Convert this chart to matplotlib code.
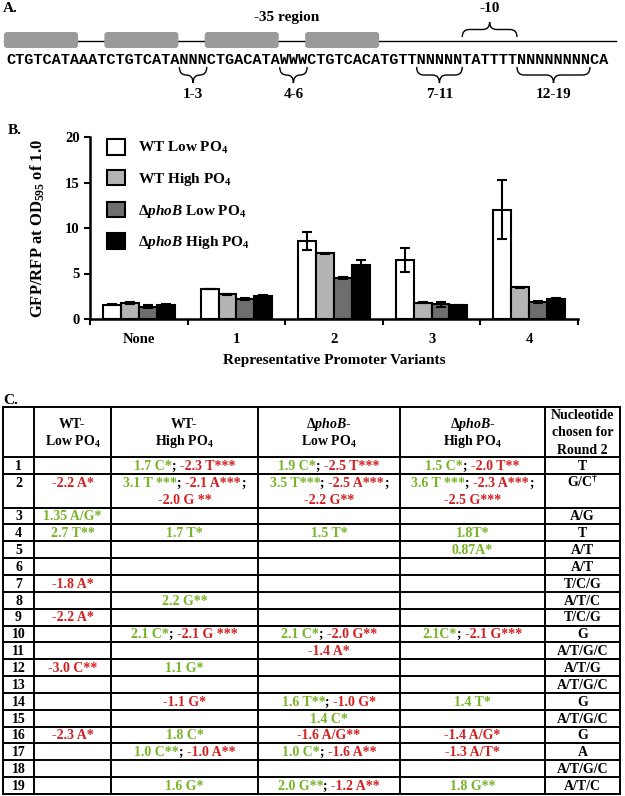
import numpy as np
import matplotlib
matplotlib.use('Agg')
import matplotlib.pyplot as plt
from matplotlib.patches import FancyBboxPatch, Patch, PathPatch
from matplotlib.path import Path
from matplotlib.font_manager import FontProperties

plt.rcParams['font.family'] = ['Liberation Serif', 'DejaVu Serif']
plt.rcParams['font.weight'] = 'bold'
plt.rcParams['mathtext.fontset'] = 'custom'
plt.rcParams['mathtext.rm'] = 'Liberation Serif:bold'
plt.rcParams['mathtext.bf'] = 'Liberation Serif:bold'
plt.rcParams['mathtext.it'] = 'Liberation Serif:italic:bold'

# A. promoter library
sequence = "CTGTCATAAATCTGTCATANNNCTGACATAWWWCTGTCACATGTTNNNNNTATTTTNNNNNNNNCA"
box_spans = [(0, 8), (11, 19), (22, 30), (33, 41)]
site_braces = [(19, 22, '1-3'), (30, 33, '4-6'), (45, 50, '7-11'), (56, 64, '12-19')]
minus10_span = (50, 56)

# B. reporter output
variants = ['None', '1', '2', '3', '4']
series = ['WT Low PO$_4$', 'WT High PO$_4$',
          'Δ$\\mathit{phoB}$ Low PO$_4$', 'Δ$\\mathit{phoB}$ High PO$_4$']
wt_low = [1.55, 3.3, 8.6, 6.5, 12.0]
wt_low_err = [0.05, 0.05, 1.0, 1.3, 3.25]
wt_high = [1.75, 2.7, 7.2, 1.8, 3.5]
wt_high_err = [0.15, 0.05, 0.1, 0.05, 0.05]
phob_low = [1.35, 2.2, 4.55, 1.6, 1.9]
phob_low_err = [0.15, 0.1, 0.1, 0.25, 0.1]
phob_high = [1.5, 2.55, 5.9, 1.5, 2.2]
phob_high_err = [0.1, 0.1, 0.6, 0.05, 0.1]

# C. significant nucleotides per position
col_headers = ['', 'WT-\nLow PO$_4$', 'WT-\nHigh PO$_4$',
               'Δ$\\mathit{phoB}$-\nLow PO$_4$', 'Δ$\\mathit{phoB}$-\nHigh PO$_4$',
               'Nucleotide\nchosen for\nRound 2']
positions = [str(i) for i in range(1, 20)]
wt_low_hits = ['', '-2.2 A*', '1.35 A/G*', '2.7 T**', '', '', '-1.8 A*', '', '-2.2 A*', '',
               '', '-3.0 C**', '', '', '', '-2.3 A*', '', '', '']
wt_high_hits = ['1.7 C*; -2.3 T***', '3.1 T ***; -2.1 A***;\n-2.0 G **', '', '1.7 T*', '', '',
                '', '2.2 G**', '', '2.1 C*; -2.1 G ***', '', '1.1 G*', '', '-1.1 G*', '',
                '1.8 C*', '1.0 C**; -1.0 A**', '', '1.6 G*']
phob_low_hits = ['1.9 C*; -2.5 T***', '3.5 T***; -2.5 A***;\n-2.2 G**', '', '1.5 T*', '', '',
                 '', '', '', '2.1 C*; -2.0 G**', '-1.4 A*', '', '', '1.6 T**; -1.0 G*',
                 '1.4 C*', '-1.6 A/G**', '1.0 C*; -1.6 A**', '', '2.0 G**; -1.2 A**']
phob_high_hits = ['1.5 C*; -2.0 T**', '3.6 T ***; -2.3 A***;\n-2.5 G***', '', '1.8T*', '0.87A*',
                  '', '', '', '', '2.1C*; -2.1 G***', '', '', '', '1.4 T*', '', '-1.4 A/G*',
                  '-1.3 A/T*', '', '1.8 G**']
round2_choice = ['T', 'G/C$^{\\dagger}$', 'A/G', 'T', 'A/T', 'A/T', 'T/C/G', 'A/T/C', 'T/C/G', 'G',
                 'A/T/G/C', 'A/T/G', 'A/T/G/C', 'G', 'A/T/G/C', 'G', 'A', 'A/T/G/C', 'A/T/C']

GREEN = '#78b428'
RED = '#d42020'

W, H = 625, 796
fig = plt.figure(figsize=(W / 100, H / 100), dpi=100)
ax0 = fig.add_axes([0, 0, 1, 1])
ax0.set_xlim(0, W)
ax0.set_ylim(H, 0)
ax0.axis('off')
renderer = fig.canvas.get_renderer()


def text_width(s, prop):
    w1 = renderer.get_text_width_height_descent('|' + s + '|', prop, ismath=False)[0]
    w0 = renderer.get_text_width_height_descent('||', prop, ismath=False)[0]
    return w1 - w0


def draw_brace(x0, x1, y_end, y_tip):
    ym = (y_end + y_tip) / 2
    xm = (x0 + x1) / 2
    q = min(7, (x1 - x0) / 4)
    verts = [(x0, y_end), (x0, ym), (x0 + q, ym),
             (xm - q, ym), (xm, ym), (xm, y_tip),
             (xm, ym), (xm + q, ym),
             (x1 - q, ym), (x1, ym), (x1, y_end)]
    codes = [Path.MOVETO, Path.CURVE3, Path.CURVE3,
             Path.LINETO, Path.CURVE3, Path.CURVE3,
             Path.CURVE3, Path.CURVE3,
             Path.LINETO, Path.CURVE3, Path.CURVE3]
    ax0.add_patch(PathPatch(Path(verts, codes), facecolor='none', edgecolor='black', lw=1.0))


label_font = FontProperties(family='Liberation Serif', weight='bold', size=11)

# ---------------- panel A
seq_font = FontProperties(family='Liberation Mono', weight='bold', size=11)
seq_x0 = 6
cw = text_width(sequence, seq_font) / len(sequence)
ax0.text(3, 8, 'A.', fontproperties=label_font, va='center', ha='left')
ax0.plot([4, 616], [40.5, 40.5], color='black', lw=1.0)
for i0, i1 in box_spans:
    ax0.add_patch(FancyBboxPatch((seq_x0 + i0 * cw - 2, 32), (i1 - i0) * cw + 1, 16,
                                 boxstyle='round,pad=0,rounding_size=3',
                                 facecolor='#9a9a9a', edgecolor='none', zorder=3))
ax0.text(seq_x0, 60, sequence, fontproperties=seq_font, ha='left', va='center')
ax0.text(287, 17, '-35 region', fontproperties=label_font, ha='center', va='center')
x_a = seq_x0 + minus10_span[0] * cw
x_b = seq_x0 + minus10_span[1] * cw
draw_brace(x_a, x_b, 37, 22)
ax0.text((x_a + x_b) / 2, 8, '-10', fontproperties=label_font, ha='center', va='center')
for i0, i1, lab in site_braces:
    x_a = seq_x0 + i0 * cw
    x_b = seq_x0 + i1 * cw
    draw_brace(x_a, x_b, 67, 83)
    ax0.text((x_a + x_b) / 2, 94, lab, fontproperties=label_font, ha='center', va='center')

# ---------------- panel B
ax0.text(8, 131, 'B.', fontproperties=label_font, va='center', ha='left')
ax = fig.add_axes([90 / W, 1 - 319 / H, (578 - 90) / W, (319 - 137) / H])
ax.set_facecolor('none')
x = np.arange(len(variants)) + 0.5
bw = 0.183
bar_colors = ['white', '#b4b4b4', '#6e6e6e', 'black']
vals = [wt_low, wt_high, phob_low, phob_high]
errs = [wt_low_err, wt_high_err, phob_low_err, phob_high_err]
handles = []
for k in range(4):
    ax.bar(x + (k - 1.5) * bw, vals[k], bw, color=bar_colors[k], edgecolor='black', lw=1.5, zorder=2)
    ax.errorbar(x + (k - 1.5) * bw, vals[k], yerr=errs[k], fmt='none', ecolor='black',
                elinewidth=1.5, capsize=3.5, capthick=1.5, zorder=3)
    handles.append(Patch(facecolor=bar_colors[k], edgecolor='black', lw=1.5))
ax.set_xlim(0, len(variants))
ax.set_ylim(0, 20)
ax.set_yticks([0, 5, 10, 15, 20])
ax.set_xticks(np.arange(len(variants) + 1))
ax.set_xticklabels([])
ax.set_xticks(x, minor=True)
ax.set_xticklabels(variants, minor=True, fontsize=10.5, fontweight='bold')
ax.tick_params(axis='x', which='minor', length=0, pad=10)
ax.tick_params(axis='both', which='major', direction='out', length=4, width=1.5, labelsize=10.5)
for lab in ax.get_yticklabels():
    lab.set_fontweight('bold')
for side in ['top', 'right']:
    ax.spines[side].set_visible(False)
for side in ['left', 'bottom']:
    ax.spines[side].set_linewidth(1.8)
ax.set_xlabel('Representative Promoter Variants', fontsize=11, fontweight='bold', labelpad=6)
ax.set_ylabel('GFP/RFP at OD$_{595}$ of 1.0', fontsize=12, fontweight='bold')
ax.yaxis.set_label_coords(-0.088, 0.5)
ax.legend(handles, series, loc='upper left', bbox_to_anchor=(107 / W, 1 - 139 / H),
          bbox_transform=fig.transFigure, frameon=False, handlelength=1.2, handleheight=1.2,
          handletextpad=0.8, labelspacing=0.9, borderpad=0, borderaxespad=0,
          prop=FontProperties(family='Liberation Serif', weight='bold', size=11))

# ---------------- panel C
ax0.text(3, 400, 'C.', fontproperties=label_font, va='center', ha='left')
cell_font = FontProperties(family='Liberation Serif', weight='bold', size=10)
col_edges = [3, 34, 111, 258, 400, 545, 620]
col_mid = [(a + b) / 2 for a, b in zip(col_edges[:-1], col_edges[1:])]
t_top, h_bot, t_bot = 407, 457, 794
unit = (t_bot - h_bot) / 20
row_h = [2 if r == '2' else 1 for r in positions]
row_edges = [h_bot]
for n in row_h:
    row_edges.append(row_edges[-1] + n * unit)

for yy in [t_top] + row_edges:
    ax0.plot([col_edges[0], col_edges[-1]], [yy, yy], color='black', lw=1.4, solid_capstyle='projecting')
for xx in col_edges:
    ax0.plot([xx, xx], [t_top, t_bot], color='black', lw=1.4, solid_capstyle='projecting')

for c, head in enumerate(col_headers):
    lines = head.split('\n') if head else []
    n = len(lines)
    for j, line in enumerate(lines):
        yy = (t_top + h_bot) / 2 + (j - (n - 1) / 2) * 17.5 + 1
        ax0.text(col_mid[c], yy, line, fontproperties=cell_font, ha='center', va='center')


def draw_parts(xc, yb, parts):
    widths = [text_width(s, cell_font) for s, col in parts]
    left = xc - sum(widths) / 2
    for (s, col), w in zip(parts, widths):
        ax0.text(left, yb, s, color=col, fontproperties=cell_font, ha='left', va='baseline')
        left += w


def cell_parts(line):
    items = line.split(';')
    parts = []
    for k, it in enumerate(items):
        s = it.strip()
        if s:
            parts.append((s, RED if s.startswith('-') else GREEN))
        if k < len(items) - 1:
            parts.append(('; ' if items[k + 1].strip() else ';', 'black'))
    return parts


hit_cols = [wt_low_hits, wt_high_hits, phob_low_hits, phob_high_hits]
for r, pos in enumerate(positions):
    y_first = row_edges[r] + unit / 2
    base = 4.4
    ax0.text(col_mid[0], y_first + base, pos, fontproperties=cell_font, ha='center', va='baseline')
    ax0.text(col_mid[5], y_first + base, round2_choice[r], fontproperties=cell_font,
             ha='center', va='baseline')
    for c, col in enumerate(hit_cols):
        if not col[r]:
            continue
        for j, line in enumerate(col[r].split('\n')):
            draw_parts(col_mid[c + 1], y_first + base + j * unit, cell_parts(line))

fig.savefig('out.png', dpi=100)
